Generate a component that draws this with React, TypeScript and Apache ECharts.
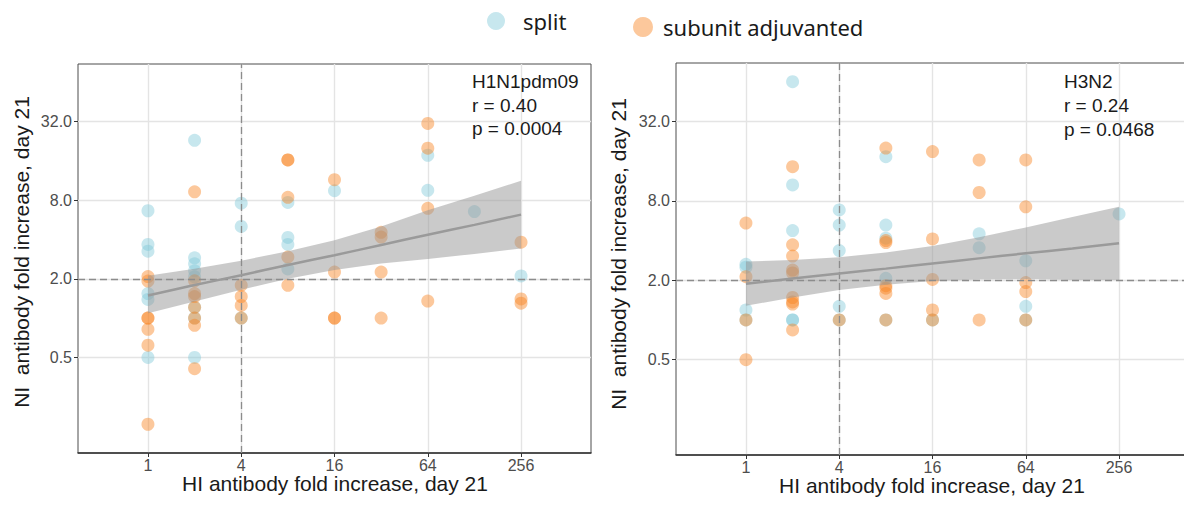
import React, { useEffect, useRef } from "react";
import * as echarts from "echarts";

// ---------- data (fold increases) ----------
const seriesNames = ["split", "subunit adjuvanted"];
const hiTicks = [1, 4, 16, 64, 256];
const niTicks = [0.5, 2, 8, 32];
const hiRefLine = 4;
const niRefLine = 2;

// [HI fold increase, NI fold increase]
const h1Split: number[][] = [
  [1, 6.63], [1, 3.66], [1, 3.25], [1, 1.54], [1, 1.39], [1, 0.5],
  [2, 22.94], [2, 2.89], [2, 2.6], [2, 2.3], [2, 2.07], [2, 1.21], [2, 1], [2, 0.5],
  [4, 7.57], [4, 5.03], [4, 1],
  [8, 7.67], [8, 4.14], [8, 3.66], [8, 2.38],
  [16, 9.45],
  [64, 17.63], [64, 9.51],
  [128, 6.54],
  [256, 2.1],
];
const h1Subunit: number[][] = [
  [1, 2.08], [1, 1.92], [1, 1], [1, 1], [1, 0.82], [1, 0.62], [1, 0.154],
  [2, 9.25], [2, 1.93], [2, 1.54], [2, 1.46], [2, 1.21], [2, 1], [2, 0.88], [2, 0.41],
  [4, 1.78], [4, 1.46], [4, 1.25], [4, 1],
  [8, 16.22], [8, 16.22], [8, 8.4], [8, 2.93], [8, 1.78],
  [16, 11.47], [16, 2.25], [16, 1], [16, 1],
  [32, 4.53], [32, 4.17], [32, 2.25], [32, 1],
  [64, 30.9], [64, 19.97], [64, 6.92], [64, 1.35],
  [256, 3.81], [256, 1.4], [256, 1.3],
];
const h3Split: number[][] = [
  [1, 2.64], [1, 2.51], [1, 1.19], [1, 1],
  [2, 64], [2, 10.56], [2, 4.76], [2, 1], [2, 1],
  [4, 6.82], [4, 5.24], [4, 3.36], [4, 1.27], [4, 1],
  [8, 17.27], [8, 5.24], [8, 4.17], [8, 2.07], [8, 1],
  [16, 1],
  [32, 4.5], [32, 3.53],
  [64, 2.81], [64, 1.27], [64, 1],
  [256, 6.36],
];
const h3Subunit: number[][] = [
  [1, 5.43], [1, 2.13], [1, 1], [1, 0.5],
  [2, 14.52], [2, 3.71], [2, 3.05], [2, 2.39], [2, 2.27], [2, 1.48], [2, 1.37], [2, 1.32], [2, 0.84],
  [4, 1],
  [8, 20.1], [8, 4], [8, 3.86], [8, 1.82], [8, 1.74], [8, 1.59], [8, 1],
  [16, 18.9], [16, 4.11], [16, 2.03], [16, 1.19], [16, 1],
  [32, 16.34], [32, 9.25], [32, 1],
  [64, 16.34], [64, 7.21], [64, 1.92], [64, 1.64], [64, 1],
];

// regression fit and confidence band (NI fold) at these HI folds
const fitHi = [1, 2, 4, 8, 16, 32, 64, 128, 256];
const h1Fit = [1.49, 1.79, 2.13, 2.55, 3.03, 3.63, 4.35, 5.17, 6.19];
const h1Upper = [2.11, 2.39, 2.75, 3.25, 3.94, 5.03, 6.68, 8.63, 11.24];
const h1Lower = [1.09, 1.34, 1.65, 2.0, 2.33, 2.62, 2.83, 3.1, 3.41];
const h3Fit = [1.88, 2.06, 2.25, 2.45, 2.68, 2.93, 3.2, 3.48, 3.81];
const h3Upper = [2.77, 2.85, 2.99, 3.25, 3.63, 4.23, 5.03, 6.02, 7.21];
const h3Lower = [1.28, 1.48, 1.69, 1.85, 1.97, 2.03, 2.04, 2.01, 2.01];

const h1Stats = ["H1N1pdm09", "r = 0.40", "p = 0.0004"];
const h3Stats = ["H3N2", "r = 0.24", "p = 0.0468"];
const xTitle = "HI antibody fold increase, day 21";
const yTitle = "NI  antibody fold increase, day 21";

// ---------- styles ----------
const SPLIT_COLOR = "rgba(127,200,216,0.55)";
const SUB_COLOR = "rgba(248,130,30,0.55)";
const BAND_COLOR = "rgba(150,150,150,0.5)";
const FIT_COLOR = "#9a9a9a";
const GRID_LINE = "#e4e4e4";
const FONT = '"Liberation Sans", Arial, sans-serif';

const L = Math.log2;

function panelSeries(idx: number, split: number[][], sub: number[][], fit: number[], upper: number[], lower: number[]) {
  const pts = (arr: number[][]) => arr.map(([x, y]) => [L(x), L(y)]);
  return [
    {
      type: "scatter",
      name: seriesNames[0],
      xAxisIndex: idx,
      yAxisIndex: idx,
      data: pts(split),
      symbolSize: 13,
      itemStyle: { color: SPLIT_COLOR },
      z: 3,
      markLine: {
        silent: true,
        symbol: ["none", "none"],
        label: { show: false },
        lineStyle: { color: "#8c8c8c", type: [7, 4], width: 1.3 },
        data: [{ xAxis: L(hiRefLine) }, { yAxis: L(niRefLine) }],
      },
    },
    {
      type: "scatter",
      name: seriesNames[1],
      xAxisIndex: idx,
      yAxisIndex: idx,
      data: pts(sub),
      symbolSize: 13,
      itemStyle: { color: SUB_COLOR },
      z: 3,
    },
    {
      type: "custom",
      xAxisIndex: idx,
      yAxisIndex: idx,
      data: fitHi.map((x, i) => [L(x), L(lower[i]), L(upper[i])]),
      encode: { x: 0, y: [1, 2] },
      silent: true,
      z: 4,
      renderItem: (params: any, api: any) => {
        if (params.dataIndex !== 0) return null;
        const top = fitHi.map((x, i) => api.coord([L(x), L(upper[i])]));
        const bot = fitHi.map((x, i) => api.coord([L(x), L(lower[i])])).reverse();
        return {
          type: "polygon",
          shape: { points: top.concat(bot) },
          style: { fill: BAND_COLOR, stroke: "none" },
        };
      },
    },
    {
      type: "line",
      xAxisIndex: idx,
      yAxisIndex: idx,
      data: fitHi.map((x, i) => [L(x), L(fit[i])]),
      symbol: "none",
      smooth: true,
      lineStyle: { color: FIT_COLOR, width: 2.5 },
      silent: true,
      z: 5,
    },
  ];
}

function xAxis(gridIndex: number) {
  return {
    type: "value",
    gridIndex,
    min: -1.5,
    max: 9.5,
    splitNumber: 11,
    axisLine: { show: true, onZero: false, lineStyle: { color: "#333", width: 1.5 } },
    axisTick: { show: true, customValues: hiTicks.map(L), length: 4, lineStyle: { color: "#333" } },
    axisLabel: {
      customValues: hiTicks.map(L),
      formatter: (v: number) => String(Math.round(Math.pow(2, v))),
      color: "#4d4d4d",
      fontSize: 16,
      lineHeight: 14,
      fontFamily: FONT,
      margin: 5,
    },
    splitLine: { show: true, lineStyle: { color: GRID_LINE, width: 1.4 } },
  };
}

function yAxis(gridIndex: number, min: number, max: number) {
  return {
    type: "value",
    gridIndex,
    min,
    max,
    splitNumber: 10,
    axisLine: { show: false, onZero: false },
    axisTick: { show: true, customValues: niTicks.map(L), length: 4, lineStyle: { color: "#333" } },
    axisLabel: {
      customValues: niTicks.map(L),
      formatter: (v: number) => Math.pow(2, v).toFixed(1),
      color: "#4d4d4d",
      fontSize: 16,
      fontFamily: FONT,
      margin: 6,
    },
    splitLine: { show: true, lineStyle: { color: GRID_LINE, width: 1.4 } },
  };
}

export default function App() {
  const ref = useRef<HTMLDivElement>(null);
  useEffect(() => {
    document.body.style.margin = "0";
    const chart = echarts.init(ref.current!, null, { renderer: "svg" });
    const textStyle = (size: number) => ({ font: `${size}px ${FONT}`, fill: "#1a1a1a" });
    chart.setOption({
      animation: false,
      backgroundColor: "#ffffff",
      grid: [
        { left: 78, top: 64, width: 513, height: 389, show: true, borderColor: "#4d4d4d", borderWidth: 1, containLabel: false, outerBoundsMode: "none" },
        { left: 676, top: 63, width: 513, height: 392, show: true, borderColor: "#4d4d4d", borderWidth: 1, containLabel: false, outerBoundsMode: "none" },
      ],
      xAxis: [xAxis(0), xAxis(1)],
      yAxis: [yAxis(0, -3.43, 6.46), yAxis(1, -3.4, 6.47)],
      legend: [
        {
          data: [seriesNames[0]],
          left: 487,
          top: 10,
          padding: 0,
          icon: "circle",
          itemWidth: 18,
          itemHeight: 18,
          selectedMode: false,
          textStyle: { fontSize: 22, fontFamily: '"Noto Sans", sans-serif', color: "#1a1a1a", padding: [0, 0, 0, 13] },
        },
        {
          data: [seriesNames[1]],
          left: 633,
          top: 16,
          padding: 0,
          icon: "circle",
          itemWidth: 20,
          itemHeight: 20,
          selectedMode: false,
          textStyle: { fontSize: 22, fontFamily: '"Noto Sans", sans-serif', color: "#1a1a1a", padding: [0, 0, 0, 5] },
        },
      ],
      series: [
        ...panelSeries(0, h1Split, h1Subunit, h1Fit, h1Upper, h1Lower),
        ...panelSeries(1, h3Split, h3Subunit, h3Fit, h3Upper, h3Lower),
      ],
      graphic: [
        { type: "text", x: 21, y: 252, rotation: Math.PI / 2, style: { ...textStyle(21), text: yTitle, align: "center", verticalAlign: "middle" } },
        { type: "text", x: 618, y: 254, rotation: Math.PI / 2, style: { ...textStyle(21), text: yTitle, align: "center", verticalAlign: "middle" } },
        { type: "text", x: 335, y: 483.5, style: { ...textStyle(21), text: xTitle, lineHeight: 16, align: "center", verticalAlign: "middle" } },
        { type: "text", x: 932, y: 485, style: { ...textStyle(21), text: xTitle, lineHeight: 16, align: "center", verticalAlign: "middle" } },
        { type: "text", x: 472, y: 105, z: 10, style: { ...textStyle(19), text: h1Stats.join("\n"), lineHeight: 23.3, align: "left", verticalAlign: "middle" } },
        { type: "text", x: 1064, y: 105.5, z: 10, style: { ...textStyle(19), text: h3Stats.join("\n"), lineHeight: 24, align: "left", verticalAlign: "middle" } },
      ],
    });
    return () => chart.dispose();
  }, []);
  return <div ref={ref} style={{ width: 1184, height: 510 }} />;
}
